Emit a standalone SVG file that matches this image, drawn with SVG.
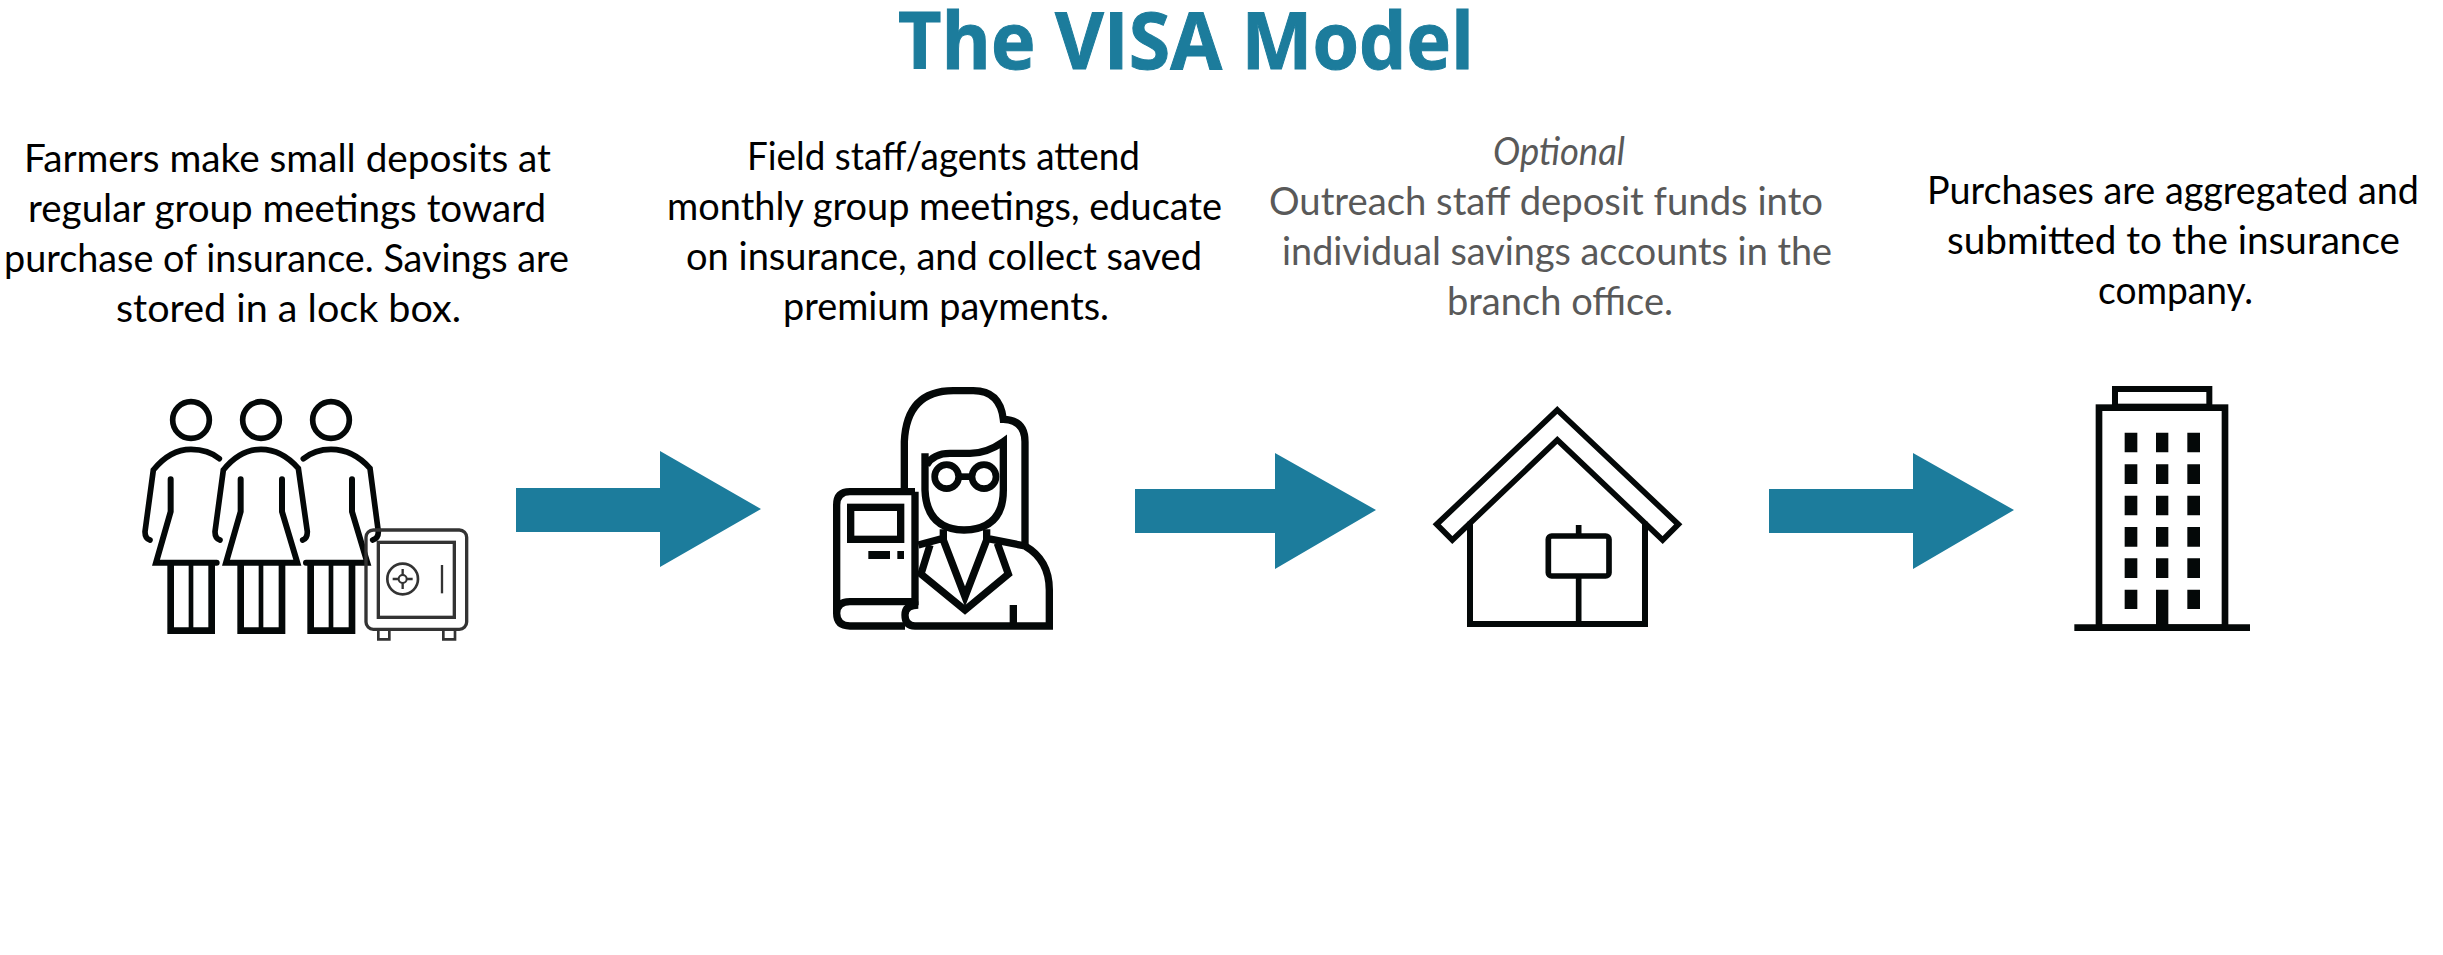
<svg xmlns="http://www.w3.org/2000/svg" width="2443" height="955" viewBox="0 0 2443 955">
<style>
text{font-family:"Lato","Liberation Sans",sans-serif;font-size:38px;fill:#000;text-anchor:start}
.title{font-family:"Open Sans","Liberation Sans",sans-serif;font-weight:700;font-size:78px;fill:#1c7c9c;stroke:#1c7c9c;stroke-width:1}
.grey{fill:#595959}
.ln{fill:none;stroke:#040808;stroke-linejoin:miter}
.arrow{fill:#1c7c9c}
</style>
<rect width="2443" height="955" fill="#fff"/>
<text class="title" x="898" y="69" textLength="576" lengthAdjust="spacingAndGlyphs">The VISA Model</text>
<g id="connectors">
<path class="arrow" d="M516 488H660V451L761 509L660 567V532H516Z"/>
<path class="arrow" d="M1135 489H1275V453L1376 510L1275 569V533H1135Z"/>
<path class="arrow" d="M1769 489H1913V453L2014 510L1913 569V533H1769Z"/>
</g>
<g id="node-farmers">
<text x="24" y="172" textLength="527" lengthAdjust="spacingAndGlyphs">Farmers make small deposits at</text>
<text x="28" y="222" textLength="518" lengthAdjust="spacingAndGlyphs">regular group meetings toward</text>
<text x="4" y="272" textLength="565" lengthAdjust="spacingAndGlyphs">purchase of insurance. Savings are</text>
<text x="116" y="322" textLength="345" lengthAdjust="spacingAndGlyphs">stored in a lock box.</text>
<g transform="translate(120 380) scale(.33333)">
<g class="ln" stroke-width="17">
<circle cx="213" cy="120" r="55"/><circle cx="423" cy="120" r="55"/><circle cx="633" cy="120" r="55"/>
<path stroke-linecap="round" d="M90 480Q75 475 75 455L100 270Q150 208 213 208Q265 208 298 236"/>
<path stroke-linecap="round" d="M300 480Q285 475 285 455L310 270Q360 208 423 208Q485 208 535 265L562 455Q562 475 548 480"/>
<path stroke-linecap="round" d="M550 236Q585 208 633 208Q700 208 750 265L775 455Q775 475 758 480"/>
<path stroke-width="18" stroke-linecap="round" d="M152 298V395L108 548H290"/>
<path stroke-width="18" stroke-linecap="round" d="M362 298V395L318 548H532L486 395V298"/>
<path stroke-width="18" stroke-linecap="round" d="M558 548H742L696 395V298"/>
<path stroke-width="20" d="M152 548V752H275V548M362 548V752H486V548M572 548V752H696V548"/>
<path stroke-width="14" d="M213 548V752M423 548V752M633 548V752"/>
</g>
<g class="ln" style="stroke:#333">
<rect x="738" y="450" width="302" height="298" rx="22" stroke-width="10"/>
<rect x="775" y="487" width="228" height="225" stroke-width="10"/>
<circle cx="848" cy="597" r="46" stroke-width="8"/>
<circle cx="848" cy="597" r="12" stroke-width="6"/>
<path stroke-width="7" d="M848 567V585M848 609V627M818 597H836M860 597H878"/>
<path stroke-width="7" d="M966 555V640"/>
<path stroke-width="8" d="M775 748V778H808V748M970 748V778H1005V748"/>
</g>
</g>
</g>
<g id="node-agents">
<text x="747" y="170" textLength="393" lengthAdjust="spacingAndGlyphs">Field staff/agents attend</text>
<text x="667" y="220" textLength="555" lengthAdjust="spacingAndGlyphs">monthly group meetings, educate</text>
<text x="686" y="270" textLength="516" lengthAdjust="spacingAndGlyphs">on insurance, and collect saved</text>
<text x="783" y="320" textLength="326" lengthAdjust="spacingAndGlyphs">premium payments.</text>
<g transform="translate(810 370) scale(.33333)" class="ln" stroke-width="22">
<path d="M283 355V215Q290 62 430 62H490Q570 62 580 148Q645 150 645 215V525"/>
<path d="M345 250V360Q350 478 462 480Q580 478 580 360V215Q530 250 480 250H420Q370 250 350 285"/>
<circle cx="410" cy="320" r="36" stroke-width="20"/><circle cx="522" cy="320" r="36" stroke-width="20"/>
<path stroke-width="20" d="M446 320H486"/>
<path d="M400 478V510L465 680L530 510V478M325 525L400 505M530 505L645 528Q718 570 718 660V768H315Q285 768 285 735Q285 705 325 705"/>
<path d="M360 525L333 612L465 720L595 612L562 520"/>
<path d="M315 365H120Q80 365 80 405V730Q80 768 120 768H285M315 365V695H120Q80 695 80 730"/>
<rect x="122" y="412" width="150" height="96"/>
<path d="M610 705V768"/>
<path style="fill:#040808;stroke:none" d="M175 543H240V567H175ZM262 543H282V567H262Z"/>
</g>
</g>
<g id="node-branch">
<text class="grey" x="1493" y="165" font-style="italic" textLength="132" lengthAdjust="spacingAndGlyphs">Optional</text>
<text class="grey" x="1269" y="215" textLength="554" lengthAdjust="spacingAndGlyphs">Outreach staff deposit funds into</text>
<text class="grey" x="1282" y="265" textLength="550" lengthAdjust="spacingAndGlyphs">individual savings accounts in the</text>
<text class="grey" x="1447" y="315" textLength="226" lengthAdjust="spacingAndGlyphs">branch office.</text>
<g transform="translate(1410 390) scale(.33333)" class="ln">
<path stroke-width="17" d="M442 60L805 403L758 450L442 150L127 450L80 403Z"/>
<path stroke-width="18" d="M180 395V702H705V395"/>
<rect x="415" y="438" width="182" height="120" rx="10" stroke-width="17"/>
<path stroke-width="17" d="M506 405V438M506 558V702"/>
</g>
</g>
<g id="node-insurer">
<text x="1927" y="204" textLength="492" lengthAdjust="spacingAndGlyphs">Purchases are aggregated and</text>
<text x="1947" y="254" textLength="453" lengthAdjust="spacingAndGlyphs">submitted to the insurance</text>
<text x="2098" y="304" textLength="155" lengthAdjust="spacingAndGlyphs">company.</text>
<g transform="translate(2050 370) scale(.33333)">
<g class="ln">
<rect x="195" y="57" width="283" height="53" stroke-width="18"/>
<rect x="147" y="113" width="378" height="660" stroke-width="20"/>
<path stroke-width="20" d="M73 773H600"/>
</g>
<path fill="#040808" d="M224 188h38v59h-38zM318 188h37v59h-37zM412 188h38v59h-38zM224 283h38v59h-38zM318 283h37v59h-37zM412 283h38v59h-38zM224 377h38v59h-38zM318 377h37v59h-37zM412 377h38v59h-38zM224 471h38v59h-38zM318 471h37v59h-37zM412 471h38v59h-38zM224 565h38v59h-38zM318 565h37v59h-37zM412 565h38v59h-38zM224 659h38v58h-38zM318 659h37v114h-37zM412 659h38v58h-38z"/>
</g>
</g>
</svg>
